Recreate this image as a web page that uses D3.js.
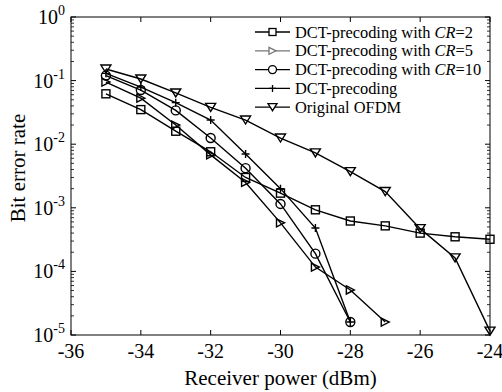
<!DOCTYPE html>
<html>
<head>
<meta charset="utf-8">
<script src="https://cdn.jsdelivr.net/npm/d3@7"></script>
<style>
  body { margin: 0; background: #fff; }
  svg { font-family: "Liberation Serif", "Times New Roman", serif; }
</style>
</head>
<body>
<div id="chart"></div>
<script>
// BER vs received power
const power = [-35, -34, -33, -32, -31, -30, -29, -28, -27, -26, -25, -24];

const berCR2 = [0.062, 0.035, 0.016, 0.0076, 0.003, 0.0017, 0.00093, 0.00062, 0.00052, 0.0004, 0.00035, 0.00032];
const berCR5 = [0.095, 0.053, 0.020, 0.0068, 0.0025, 0.00058, 0.000117, 5.1e-5, 1.6e-5];
const berCR10 = [0.12, 0.071, 0.034, 0.0125, 0.0042, 0.00115, 0.00019, 1.6e-5];
const berDCT = [0.13, 0.079, 0.045, 0.024, 0.0070, 0.002, 0.00048, 1.6e-5];
const berOFDM = [0.152, 0.106, 0.064, 0.038, 0.024, 0.0125, 0.0073, 0.0037, 0.0018, 0.00047, 0.000163, 1.15e-5];

const xTicks = [-36, -34, -32, -30, -28, -26, -24];
const yExps = [0, -1, -2, -3, -4, -5];

const series = [
    { name: "DCT-precoding with ", cr: "2", values: berCR2, marker: "square" },
    { name: "DCT-precoding with ", cr: "5", values: berCR5, marker: "right" },
    { name: "DCT-precoding with ", cr: "10", values: berCR10, marker: "circle" },
    { name: "DCT-precoding", cr: null, values: berDCT, marker: "plus" },
    { name: "Original OFDM", cr: null, values: berOFDM, marker: "down" }
];

const W = 502, H = 392;
const margin = { top: 17, right: 12, bottom: 57, left: 71 };
const width = W - margin.left - margin.right;
const height = H - margin.top - margin.bottom;

const svg = d3.select("#chart").append("svg")
    .attr("width", W)
    .attr("height", H);

const g = svg.append("g")
    .attr("transform", `translate(${margin.left},${margin.top})`);

const x = d3.scaleLinear().domain([-36, -24]).range([0, width]);
const y = d3.scaleLog().domain([1e-5, 1]).range([height, 0]);

// minor log ticks
const minor = [];
for (let e = -5; e < 0; e++) {
    for (let k = 2; k <= 9; k++) minor.push(k * Math.pow(10, e));
}

const tickLen = 5, minorLen = 3;
const axes = g.append("g").attr("stroke", "#000").attr("stroke-width", 1);

// frame
axes.append("rect")
    .attr("width", width).attr("height", height)
    .attr("fill", "none");

// x ticks bottom + top
xTicks.forEach(t => {
    axes.append("line").attr("x1", x(t)).attr("x2", x(t)).attr("y1", height).attr("y2", height - tickLen);
    axes.append("line").attr("x1", x(t)).attr("x2", x(t)).attr("y1", 0).attr("y2", tickLen);
});
// y ticks left + right
yExps.forEach(e => {
    const v = Math.pow(10, e);
    axes.append("line").attr("x1", 0).attr("x2", tickLen).attr("y1", y(v)).attr("y2", y(v));
    axes.append("line").attr("x1", width).attr("x2", width - tickLen).attr("y1", y(v)).attr("y2", y(v));
});
minor.forEach(v => {
    axes.append("line").attr("x1", 0).attr("x2", minorLen).attr("y1", y(v)).attr("y2", y(v)).attr("stroke-width", 0.8);
    axes.append("line").attr("x1", width).attr("x2", width - minorLen).attr("y1", y(v)).attr("y2", y(v)).attr("stroke-width", 0.8);
});

// tick labels
g.append("g").selectAll("text")
    .data(xTicks)
    .join("text")
    .attr("x", d => x(d))
    .attr("y", height + 23)
    .attr("text-anchor", "middle")
    .attr("font-size", 20)
    .text(d => d);

const yl = g.append("g").selectAll("text")
    .data(yExps)
    .join("text")
    .attr("x", -6)
    .attr("y", d => y(Math.pow(10, d)) + 7)
    .attr("text-anchor", "end")
    .attr("font-size", 20);
yl.append("tspan").text("10");
yl.append("tspan").attr("dy", -9).attr("font-size", 14).text(d => d);

// axis titles
svg.append("text")
    .attr("x", margin.left + width / 2)
    .attr("y", H - 7)
    .attr("text-anchor", "middle")
    .attr("font-size", 21)
    .text("Receiver power (dBm)");

svg.append("text")
    .attr("transform", "translate(25,168) rotate(-90)")
    .attr("text-anchor", "middle")
    .attr("font-size", 21)
    .text("Bit error rate");

// markers
function drawMarker(sel, type, size) {
    const s = size;
    if (type === "square") {
        sel.append("rect").attr("x", -s / 2).attr("y", -s / 2).attr("width", s).attr("height", s);
    } else if (type === "circle") {
        sel.append("circle").attr("r", s / 2 + 0.5);
    } else if (type === "plus") {
        sel.append("path").attr("d", `M${-s / 2},0H${s / 2}M0,${-s / 2}V${s / 2}`);
    } else if (type === "right") {
        sel.append("path").attr("d", `M${-s / 2},${-s / 2}L${s / 2},0L${-s / 2},${s / 2}Z`);
    } else if (type === "down") {
        sel.append("path").attr("d", `M${-s / 2 - 1},${-s / 2}L${s / 2 + 1},${-s / 2}L0,${s / 2}Z`);
    }
}

const line = d3.line()
    .x(d => x(d[0]))
    .y(d => y(d[1]));

const plot = g.append("g").attr("fill", "none").attr("stroke", "#000").attr("stroke-width", 1.4);

series.forEach(s => {
    const pts = s.values.map((v, i) => [power[i], v]);
    plot.append("path").attr("d", line(pts));
    plot.append("g").selectAll("g")
        .data(pts)
        .join("g")
        .attr("transform", d => `translate(${x(d[0])},${y(d[1])})`)
        .each(function () { drawMarker(d3.select(this), s.marker, 8); });
});

// legend
const legend = svg.append("g").attr("transform", "translate(255,32)");
series.forEach((s, i) => {
    const row = legend.append("g").attr("transform", `translate(0,${i * 18.8})`);
    const col = i === 1 ? "#777" : "#000";
    const mk = row.append("g").attr("fill", "none").attr("stroke", col).attr("stroke-width", 1.3);
    mk.append("line").attr("x1", 0).attr("x2", 35).attr("y1", 0).attr("y2", 0);
    const m = mk.append("g").attr("transform", "translate(17.5,0)");
    drawMarker(m, s.marker, 7);
    if (s.marker !== "plus") m.selectAll("*").attr("fill", "#fff");
    const t = row.append("text")
        .attr("x", 40)
        .attr("y", 5.5)
        .attr("font-size", 16.4)
        .text(s.name);
    if (s.cr) {
        t.append("tspan").attr("font-style", "italic").text("CR");
        t.append("tspan").text("=" + s.cr);
    }
});
</script>
</body>
</html>
